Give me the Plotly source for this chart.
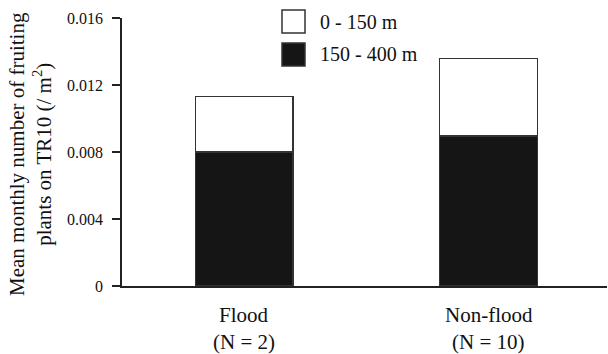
import plotly.graph_objects as go

# ---- data ----
categories = ["Flood", "Non-flood"]
sample_sizes = ["(N = 2)", "(N = 10)"]
low_band = [0.0080, 0.00895]      # 150 - 400 m (black, bottom)
high_band = [0.00332, 0.00462]    # 0 - 150 m (white, top)
series_names = ["0 - 150 m", "150 - 400 m"]
y_ticks = [0, 0.004, 0.008, 0.012, 0.016]
y_ticktext = ["0", "0.004", "0.008", "0.012", "0.016"]
y_title = "Mean monthly number of fruiting<br>plants on TR10 (/ m<sup>2</sup>)"

FONT = "Liberation Serif"
W, H = 608, 354
L, R, T, B = 122, 1, 18, 68
pw, ph = W - L - R, H - T - B

def px2x(px):
    return (px - L) / pw

def py2y(py):
    return (H - B - py) / ph

xs = list(range(len(categories)))

fig = go.Figure()
fig.add_trace(go.Bar(x=xs, y=low_band, name=series_names[1], width=0.4,
                     marker=dict(color="#151515", line=dict(color="#333333", width=1.5)),
                     showlegend=False))
fig.add_trace(go.Bar(x=xs, y=high_band, name=series_names[0], width=0.4,
                     marker=dict(color="#ffffff", line=dict(color="#333333", width=1.5)),
                     showlegend=False))

fig.update_layout(
    width=W, height=H,
    margin=dict(l=L, r=R, t=T, b=B, autoexpand=False),
    barmode="stack",
    paper_bgcolor="white", plot_bgcolor="white",
    font=dict(family=FONT, color="#111111"),
    showlegend=False,
)
fig.update_xaxes(range=[-0.5, 1.485], showticklabels=False, ticks="",
                 showline=True, linecolor="#222222", linewidth=1.5,
                 showgrid=False, zeroline=False, fixedrange=True)
fig.update_yaxes(range=[0, 0.016], tickvals=y_ticks, ticktext=y_ticktext,
                 ticks="outside", ticklen=8, tickwidth=1.5, tickcolor="#222222",
                 showline=True, linecolor="#222222", linewidth=1.5,
                 showgrid=False, zeroline=False, ticklabelstandoff=6,
                 tickfont=dict(size=16, family=FONT, color="#111111"),
                 fixedrange=True)

# x category labels (two lines)
for i, (c, n) in enumerate(zip(categories, sample_sizes)):
    fig.add_annotation(x=i, xref="x", y=py2y(315), yref="paper", text=c,
                       showarrow=False, xanchor="center", yanchor="middle",
                       font=dict(size=21, family=FONT, color="#111111"))
    fig.add_annotation(x=i, xref="x", y=py2y(342), yref="paper", text=n,
                       showarrow=False, xanchor="center", yanchor="middle",
                       font=dict(size=21, family=FONT, color="#111111"))

# y title
fig.add_annotation(x=px2x(30), xref="paper", y=py2y(154), yref="paper",
                   text=y_title, textangle=-90, showarrow=False,
                   xanchor="center", yanchor="middle",
                   font=dict(size=21, family=FONT, color="#111111"))

# manual legend
legend_items = [(series_names[0], "#ffffff", 10, 33), (series_names[1], "#151515", 43, 66)]
for name, col, y0, y1 in legend_items:
    fig.add_shape(type="rect", xref="paper", yref="paper",
                  x0=px2x(282), x1=px2x(305), y0=py2y(y1), y1=py2y(y0),
                  fillcolor=col, line=dict(color="#333333", width=1.5))
    fig.add_annotation(x=px2x(318), xref="paper", y=py2y((y0 + y1) / 2), yref="paper",
                       text=name, showarrow=False, xanchor="left", yanchor="middle",
                       font=dict(size=20, family=FONT, color="#111111"))

fig.write_html("out.html", config={"displayModeBar": False},
               post_script="document.body.style.margin='0';document.body.style.padding='0';")
